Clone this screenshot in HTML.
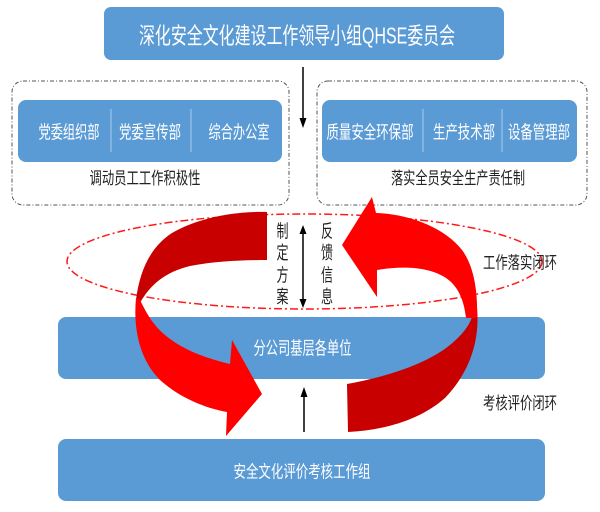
<!DOCTYPE html>
<html><head><meta charset="utf-8"><style>
html,body{margin:0;padding:0;background:#fff;}
svg{display:block;}
text{font-family:"Liberation Sans","Noto Sans CJK SC","WenQuanYi Zen Hei",sans-serif;}
</style></head><body>
<svg width="600" height="512" viewBox="0 0 600 512" xmlns="http://www.w3.org/2000/svg">
<!-- top box -->
<rect x="104" y="7" width="400" height="53" rx="7" fill="#5b9bd5"/>
<text x="297" y="43.5" font-size="23" fill="#fff" text-anchor="middle" textLength="316" lengthAdjust="spacingAndGlyphs">深化安全文化建设工作领导小组QHSE委员会</text>

<!-- dashed group boxes -->
<rect x="12" y="81" width="277" height="124" rx="11" fill="none" stroke="#555" stroke-width="1" stroke-dasharray="4 2 1 2"/>
<rect x="317" y="81" width="270" height="124" rx="11" fill="none" stroke="#555" stroke-width="1" stroke-dasharray="4 2 1 2"/>

<!-- inner blue boxes -->
<rect x="18" y="100" width="264" height="62" rx="8" fill="#5b9bd5"/>
<rect x="322" y="100" width="255" height="62" rx="8" fill="#5b9bd5"/>
<line x1="111" y1="109" x2="111" y2="152" stroke="#a8c8ea" stroke-width="1"/>
<line x1="191" y1="109" x2="191" y2="152" stroke="#a8c8ea" stroke-width="1"/>
<line x1="423" y1="109" x2="423" y2="152" stroke="#a8c8ea" stroke-width="1"/>
<line x1="502" y1="109" x2="502" y2="152" stroke="#a8c8ea" stroke-width="1"/>

<g font-size="18" fill="#fff" text-anchor="middle">
<text x="69" y="138.7" textLength="61" lengthAdjust="spacingAndGlyphs">党委组织部</text>
<text x="150" y="138.7" textLength="62" lengthAdjust="spacingAndGlyphs">党委宣传部</text>
<text x="239" y="138.7" textLength="61" lengthAdjust="spacingAndGlyphs">综合办公室</text>
<text x="370" y="138.7" textLength="87" lengthAdjust="spacingAndGlyphs">质量安全环保部</text>
<text x="464" y="138.7" textLength="62" lengthAdjust="spacingAndGlyphs">生产技术部</text>
<text x="539" y="138.7" textLength="62" lengthAdjust="spacingAndGlyphs">设备管理部</text>
</g>

<g font-size="17" fill="#222" text-anchor="middle">
<text x="145" y="183.8" textLength="111" lengthAdjust="spacingAndGlyphs">调动员工工作积极性</text>
<text x="458" y="183.8" textLength="134" lengthAdjust="spacingAndGlyphs">落实全员安全生产责任制</text>
</g>

<!-- top black arrow -->
<line x1="303" y1="67" x2="303" y2="120" stroke="#000" stroke-width="1.5"/>
<polygon points="303,128 299.5,118 306.5,118" fill="#000"/>

<!-- middle band -->
<rect x="58" y="317" width="487" height="62" rx="8" fill="#5b9bd5"/>
<text x="302.5" y="354.7" font-size="18" fill="#fff" text-anchor="middle" textLength="98" lengthAdjust="spacingAndGlyphs">分公司基层各单位</text>

<!-- bottom box -->
<rect x="58" y="439" width="487" height="62" rx="8" fill="#5b9bd5"/>
<text x="302" y="477.3" font-size="17" fill="#fff" text-anchor="middle" textLength="137" lengthAdjust="spacingAndGlyphs">安全文化评价考核工作组</text>

<!-- ellipse -->
<ellipse cx="304.5" cy="261.5" rx="237.5" ry="47.5" fill="none" stroke="#ff1a1a" stroke-width="1.5" stroke-dasharray="8 3 2 3"/>

<!-- vertical texts -->
<g font-size="18" fill="#222" text-anchor="middle">
<text x="282.5" y="237.7" textLength="12" lengthAdjust="spacingAndGlyphs">制</text>
<text x="282.5" y="259.2" textLength="12" lengthAdjust="spacingAndGlyphs">定</text>
<text x="282.5" y="281.4" textLength="12" lengthAdjust="spacingAndGlyphs">方</text>
<text x="282.5" y="303.2" textLength="12" lengthAdjust="spacingAndGlyphs">案</text>
<text x="327" y="237.7" textLength="12" lengthAdjust="spacingAndGlyphs">反</text>
<text x="327" y="259.2" textLength="12" lengthAdjust="spacingAndGlyphs">馈</text>
<text x="327" y="281.4" textLength="12" lengthAdjust="spacingAndGlyphs">信</text>
<text x="327" y="303.2" textLength="12" lengthAdjust="spacingAndGlyphs">息</text>
</g>

<!-- double arrow -->
<line x1="303" y1="232" x2="303" y2="301" stroke="#000" stroke-width="1.5"/>
<polygon points="303,225 299.5,234 306.5,234" fill="#000"/>
<polygon points="303,308 299.5,299 306.5,299" fill="#000"/>

<!-- bottom arrow -->
<line x1="304" y1="432" x2="304" y2="395" stroke="#000" stroke-width="1.5"/>
<polygon points="304,387 300.5,397 307.5,397" fill="#000"/>

<!-- side labels -->
<g font-size="17" fill="#222" text-anchor="middle">
<text x="520" y="268.3" textLength="74" lengthAdjust="spacingAndGlyphs">工作落实闭环</text>
<text x="520" y="409" textLength="74" lengthAdjust="spacingAndGlyphs">考核评价闭环</text>
</g>

<!-- left red arrow -->
<path d="M267,212 C232,211 196,219 172,233 C152,246 140,268 136,300 L140,303 C150,285 165,272 190,266 C215,261 245,260 267,260 Z" fill="#c80000"/>
<path d="M136,298 C133,330 140,360 160,380 C180,398 205,408 227,412 L226,436 L262,394 L232,340 L230,364 C205,358 183,350 165,335 C152,324 146,312 140,300 Z" fill="#ff0000"/>

<!-- right red arrow -->
<path d="M477,308 C480,340 470,372 445,398 C420,420 385,430 348,432 L347,384 C385,377 425,365 450,345 C466,332 473,320 474,308 Z" fill="#c80000"/>
<path d="M376,213 C410,214 445,228 462,250 C474,266 478,292 477,318 L466,318 C464,300 458,286 446,278 C428,266 400,266 377,270 L377,297 L342,245 L372,197 Z" fill="#ff0000"/>
</svg>
</body></html>
